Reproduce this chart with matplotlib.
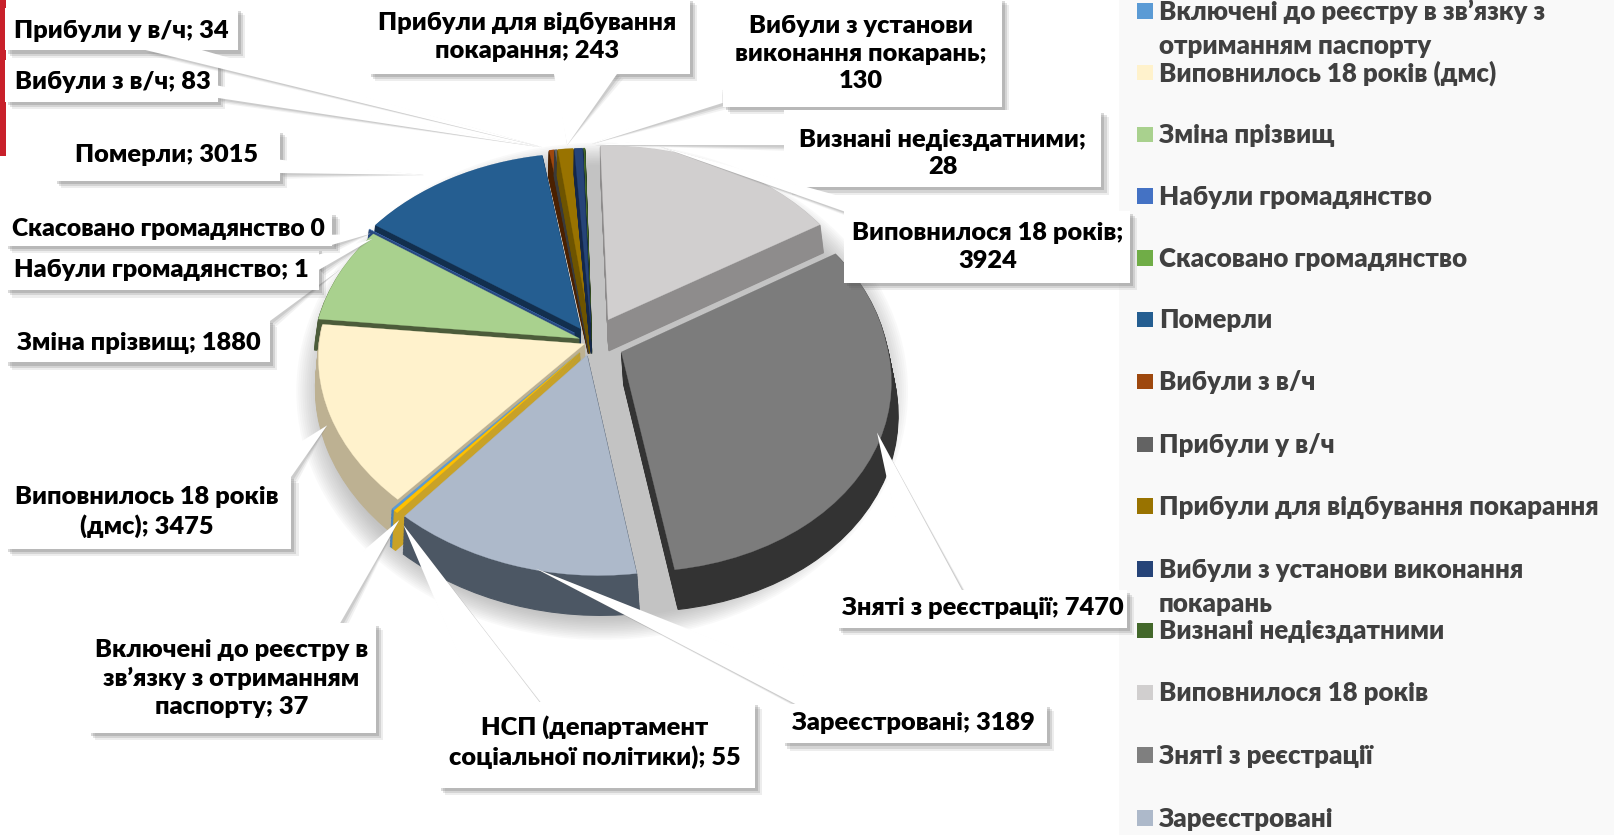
import numpy as np
import matplotlib
matplotlib.use("Agg")
import matplotlib.pyplot as plt
from matplotlib.patches import Rectangle, Polygon, Ellipse
from matplotlib.transforms import Transform

plt.rcParams['font.family'] = ['Lato', 'Noto Sans', 'DejaVu Sans']
plt.rcParams['font.weight'] = 800

# ---- data (clockwise from the top of the pie) ----
categories = ["Виповнилося 18 років", "Зняті з реєстрації", "Зареєстровані",
              "НСП (департамент соціальної політики)",
              "Включені до реєстру в зв’язку з отриманням паспорту",
              "Виповнилось 18 років (дмс)", "Зміна прізвищ", "Набули громадянство",
              "Скасовано громадянство", "Померли", "Вибули з в/ч", "Прибули у в/ч",
              "Прибули для відбування покарання", "Вибули з установи виконання покарань",
              "Визнані недієздатними"]
values = [3924, 7470, 3189, 55, 37, 3475, 1880, 1, 0, 3015, 83, 34, 243, 130, 28]
top_colors = ["#D1CFCF", "#7C7C7C", "#ADB9CA", "#FFC000", "#5B9BD5", "#FFF2CC", "#A9D18E",
              "#4472C4", "#70AD47", "#255E91", "#9E480E", "#636363", "#997300", "#264478", "#43682B"]
side_colors = ["#8E8C8C", "#333333", "#4C5764", "#C9A227", "#4A82B8", "#BDB192", "#4C5C3A",
               "#2A4A80", "#4A6A30", "#122F4E", "#4A2000", "#3A3A3A", "#6E5400", "#14274A", "#2A4019"]
explode = [0.13, 0.12, 0.07, 0.07, 0.07, 0.03, 0.05, 0.08, 0.08, 0.08, 0.10, 0.10, 0.10, 0.10, 0.10]
draw_rank = [6, 9, 14, 13, 12, 8, 7, 5, 4, 5, 0, 1, 2, 3, 0]

legend_entries = ["Включені до реєстру в зв’язку з\nотриманням паспорту", "Виповнилось 18 років (дмс)",
                  "Зміна прізвищ", "Набули громадянство", "Скасовано громадянство", "Померли",
                  "Вибули з в/ч", "Прибули у в/ч", "Прибули для відбування покарання",
                  "Вибули з установи виконання\nпокарань", "Визнані недієздатними",
                  "Виповнилося 18 років", "Зняті з реєстрації", "Зареєстровані"]
legend_colors = ["#5B9BD5", "#FFF2CC", "#A9D18E", "#4472C4", "#70AD47", "#255E91", "#9E480E",
                 "#636363", "#997300", "#264478", "#43682B", "#D1CFCF", "#7F7F7F", "#ADB9CA"]

W, H = 1568, 811          # layout units = the reduced reference pixels
CX, CY, RX, RY = 575, 332, 258, 190
DEPTH = 0.16
LAYERS = 26
K = 0.10
SHEAR = 0.04


class Persp(Transform):
    input_dims = 2
    output_dims = 2
    is_separable = False
    has_inverse = False

    def transform_non_affine(self, xy):
        xy = np.asarray(xy, float)
        w = 1 + K * xy[:, 1]
        return np.column_stack([(xy[:, 0] - SHEAR * np.minimum(xy[:, 1], 0)) / w, xy[:, 1] / w])


fig = plt.figure(figsize=(16.14, 8.35), dpi=100, facecolor="white")

bg = fig.add_axes([0, 0, 1, 1], zorder=0)
bg.set_xlim(0, W); bg.set_ylim(H, 0); bg.axis("off")
bg.add_patch(Rectangle((1087, 0), W - 1087, H, fc="#F9F9F9", ec="none"))
bg.add_patch(Rectangle((0, 0), 5.5, 152, fc="#C8202A", ec="none"))
for i in range(14):
    f = 1 + 0.05 * (7 - i) / 7
    bg.add_patch(Ellipse((585, 380), 2 * 283 * f, 2 * 230 * f, fc="#888888", alpha=0.045, ec="none"))

ax = fig.add_axes([0, 0, 1, 1], zorder=1)
persp = Persp()
for layer in range(LAYERS, -1, -1):
    d = DEPTH * layer / LAYERS
    is_top = layer == 0
    wedges, _ = ax.pie(values, explode=explode, startangle=91.5, counterclock=False,
                       radius=1, center=(0, -d), colors=top_colors if is_top else side_colors,
                       wedgeprops=dict(linewidth=0.8 if not is_top else 0.2))
    for i, w in enumerate(wedges):
        w.set_edgecolor(top_colors[i] if is_top else side_colors[i])
        w.set_transform(persp + ax.transData)
        w.set_zorder(draw_rank[i] * 100 + (LAYERS - layer) + 2)
        w.set_clip_on(False)
ax.set_aspect("auto")
ax.set_xlim((0 - CX) / RX, (W - CX) / RX)
ax.set_ylim((CY - H) / RY, CY / RY)
ax.axis("off")
ax.patch.set_alpha(0)

top = fig.add_axes([0, 0, 1, 1], zorder=2)
top.set_xlim(0, W); top.set_ylim(H, 0); top.axis("off")
top.patch.set_alpha(0)

# legend
legend_y = [11, 71, 131, 191, 251, 311, 371, 432, 492, 553, 613, 673, 734, 795]
LEG_FS = 18.6
for name, col, y in zip(legend_entries, legend_colors, legend_y):
    top.add_patch(Rectangle((1105, y - 8), 15, 15, fc=col, ec="none", zorder=1))
    for k, line in enumerate(name.split("\n")):
        top.text(1126, y + 8 + 33 * k, line, fontsize=LEG_FS, color="#404040", va="baseline", ha="left", zorder=1)

# data labels: box (x0,y0,x1,y1), callout polygon base and tip, text centre, size factor
value_of = dict(zip(categories, values))
labels = [
    ("Вибули з установи виконання покарань", "Вибули з установи\nвиконання покарань;\n{}", (702, -2, 973, 104), [(702, 84), (702, 100)], (575, 140), (836, 52), 1.0),
    ("Визнані недієздатними", "Визнані недієздатними;\n{}", (762, 107, 1070, 182), [(762, 125), (762, 141)], (578, 141), (916, 149), 1.0),
    ("Виповнилося 18 років", "Виповнилося 18 років;\n{}", (820, 205, 1098, 275), [(822, 206), (872, 206)], (640, 142), (960, 240), 1.0),
    ("Зняті з реєстрації", "Зняті з реєстрації; {}", (812, 573, 1095, 610), [(885, 574), (935, 574)], (852, 420), (955, 591), 1.0),
    ("Зареєстровані", "Зареєстровані; {}", (760, 684, 1017, 722), [(775, 685), (855, 685)], (520, 552), (887, 702), 1.0),
    ("НСП (департамент соціальної політики)", "НСП (департамент\nсоціальної політики); {}", (425, 682, 733, 765), [(465, 683), (525, 683)], (392, 510), (578, 721), 1.0),
    ("Включені до реєстру в зв’язку з отриманням паспорту", "Включені до реєстру в\nзв’язку з отриманням\nпаспорту; {}", (85, 605, 365, 712), [(270, 606), (330, 606)], (388, 505), (225, 659), 1.0),
    ("Виповнилось 18 років (дмс)", "Виповнилось 18 років\n(дмс); {}", (5, 462, 283, 533), [(238, 463), (283, 463)], (318, 413), (143, 497), 1.0),
    ("Зміна прізвищ", "Зміна прізвищ; {}", (5, 311, 262, 352), [(222, 312), (262, 312)], (330, 262), (135, 333), 1.0),
    ("Набули громадянство", "Набули громадянство; {}", (5, 241, 310, 282), [(300, 250), (310, 262)], (362, 232), (157, 262), 1.0),
    ("Скасовано громадянство", "Скасовано громадянство {}", (5, 206, 323, 239), [(322, 228), (322, 238)], (360, 227), (164, 222), 0.97),
    ("Померли", "Померли; {}", (52, 126, 272, 176), [(271, 155), (271, 168)], (412, 170), (162, 151), 1.0),
    ("Вибули з в/ч", "Вибули з в/ч; {}", (5, 58, 212, 99), [(211, 83), (211, 95)], (525, 143), (110, 80), 1.0),
    ("Прибули у в/ч", "Прибули у в/ч; {}", (5, 8, 231, 49), [(139, 48), (194, 48)], (527, 143), (118, 30), 1.0),
    ("Прибули для відбування покарання", "Прибули для відбування\nпокарання; {}", (357, -2, 670, 72), [(538, 71), (600, 71)], (551, 141), (512, 36), 1.0),
]
LBL_FS = 18.3
z = 10
for cat, tmpl, box, base, tip, centre, fs in labels:
    x0, y0, x1, y1 = box
    for s, a in ((7, 0.10), (5, 0.16), (3, 0.22)):
        top.add_patch(Rectangle((x0 + s, y0 + s), x1 - x0, y1 - y0, fc="#555555", alpha=a, ec="none", zorder=z))
        top.add_patch(Polygon([(base[0][0] + s * 0.8, base[0][1] + s * 0.8), (base[1][0] + s * 0.8, base[1][1] + s * 0.8), tip],
                              fc="#777777", alpha=a * 0.9, ec="none", zorder=z))
    top.add_patch(Polygon([base[0], base[1], tip], fc="white", ec="none", zorder=z + 1))
    top.add_patch(Rectangle((x0, y0), x1 - x0, y1 - y0, fc="white", ec="none", zorder=z + 1))
    top.text(centre[0], centre[1], tmpl.format(value_of[cat]), fontsize=LBL_FS * fs, color="black",
             ha="center", va="center", multialignment="center", linespacing=1.32, zorder=z + 2)
    z += 3

fig.savefig("out.png", dpi=100)
